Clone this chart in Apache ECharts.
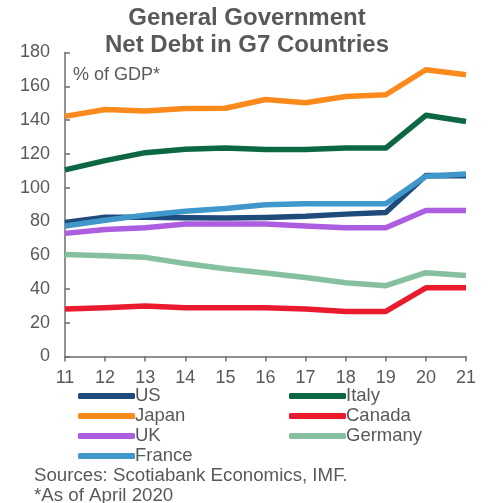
<!DOCTYPE html>
<html>
<head>
<meta charset="utf-8">
<script src="https://cdn.jsdelivr.net/npm/echarts@6/dist/echarts.min.js"></script>
<style>
  html, body { margin: 0; padding: 0; background: #fff; }
  #chart { width: 489px; height: 503px; }
</style>
</head>
<body>
<div id="chart"></div>
<script>
// Years (20xx) along the x axis
const years = ['11', '12', '13', '14', '15', '16', '17', '18', '19', '20', '21'];

// General government net debt, % of GDP
const us      = [79.3, 82.5, 82.5, 82.1, 82.0, 82.3, 83.0, 84.3, 85.3, 107.2, 107.0];
const italy   = [110.5, 116.0, 120.7, 122.7, 123.4, 122.6, 122.5, 123.4, 123.4, 142.8, 139.2];
const japan   = [142.2, 146.3, 145.3, 146.8, 147.0, 152.2, 150.3, 154.0, 155.0, 169.8, 166.8];
const canada  = [28.1, 28.9, 29.9, 28.9, 28.9, 28.9, 28.1, 26.7, 26.7, 40.7, 40.7];
const uk      = [72.9, 75.2, 76.2, 78.4, 78.4, 78.5, 77.2, 76.2, 76.2, 86.5, 86.5];
const germany = [60.4, 59.6, 58.7, 55.1, 51.9, 49.5, 46.8, 43.7, 41.9, 49.6, 48.0];
const france  = [77.3, 80.7, 83.7, 86.0, 87.6, 89.8, 90.4, 90.4, 90.4, 106.7, 108.1];

const yTicks = { min: 0, max: 180, interval: 20 };

const palette = {
  US: '#1f4b7c',
  Italy: '#0b6843',
  Japan: '#fb8a1c',
  Canada: '#eb1b2e',
  UK: '#ad5ddf',
  Germany: '#86c09f',
  France: '#3f97ca'
};

const seriesList = [
  ['Germany', germany],
  ['Canada', canada],
  ['UK', uk],
  ['US', us],
  ['France', france],
  ['Italy', italy],
  ['Japan', japan]
].map(([name, data]) => ({
  name,
  type: 'line',
  data,
  symbol: 'none',
  smooth: false,
  lineStyle: { width: 5.5, color: palette[name], cap: 'butt', join: 'round' },
  itemStyle: { color: palette[name] },
  emphasis: { disabled: true }
}));

const textColor = '#595959';
const axisColor = '#6e6e6e';
const font = 'Liberation Sans, Arial, sans-serif';

const legendCommon = {
  orient: 'vertical',
  icon: 'roundRect',
  itemWidth: 57,
  itemHeight: 6,
  itemGap: 0,
  selectedMode: false,
  textStyle: { fontSize: 18.5, lineHeight: 20, color: textColor, fontFamily: font, padding: [0, 0, 0, -5] },
  padding: 0
};

const chart = echarts.init(document.getElementById('chart'), null, { renderer: 'canvas' });
chart.setOption({
  animation: false,
  backgroundColor: '#ffffff',
  title: {
    text: 'General Government\nNet Debt in G7 Countries',
    left: 247,
    textAlign: 'center',
    top: 5,
    padding: 0,
    textStyle: { fontSize: 24, lineHeight: 27, fontWeight: 'bold', color: textColor, fontFamily: font }
  },
  legend: [
    Object.assign({}, legendCommon, { left: 78, top: 386, data: ['US', 'Japan', 'UK', 'France'] }),
    Object.assign({}, legendCommon, { left: 289, top: 386, data: ['Italy', 'Canada', 'Germany'] })
  ],
  grid: { left: 65, right: 23, top: 52.5, bottom: 146.5, containLabel: false },
  xAxis: {
    type: 'category',
    data: years,
    boundaryGap: false,
    axisLine: { lineStyle: { color: axisColor, width: 1.5 } },
    axisTick: { show: true, length: 5, inside: false, alignWithLabel: true, lineStyle: { color: axisColor, width: 1.5 } },
    axisLabel: { margin: 13, fontSize: 18, color: textColor, fontFamily: font },
    splitLine: { show: false }
  },
  yAxis: {
    type: 'value',
    min: yTicks.min,
    max: yTicks.max,
    interval: yTicks.interval,
    axisLine: { show: true, lineStyle: { color: axisColor, width: 1.5 } },
    axisTick: { show: true, length: 5, inside: true, lineStyle: { color: axisColor, width: 1.5 } },
    axisLabel: { margin: 15, fontSize: 18, color: textColor, fontFamily: font },
    splitLine: { show: false }
  },
  graphic: [
    { type: 'text', left: 20, top: -12, style: { text: 'Chart 5', fontSize: 16, fontWeight: 'bold', fill: textColor, fontFamily: font } },
    { type: 'text', left: 73, top: 66, style: { text: '% of GDP*', fontSize: 18, fill: textColor, fontFamily: font } },
    { type: 'text', left: 34, top: 466, style: { text: 'Sources: Scotiabank Economics, IMF.', fontSize: 18.7, fill: textColor, fontFamily: font } },
    { type: 'text', left: 34, top: 486, style: { text: '*As of April 2020', fontSize: 18.7, fill: textColor, fontFamily: font } }
  ],
  series: seriesList
});
</script>
</body>
</html>
